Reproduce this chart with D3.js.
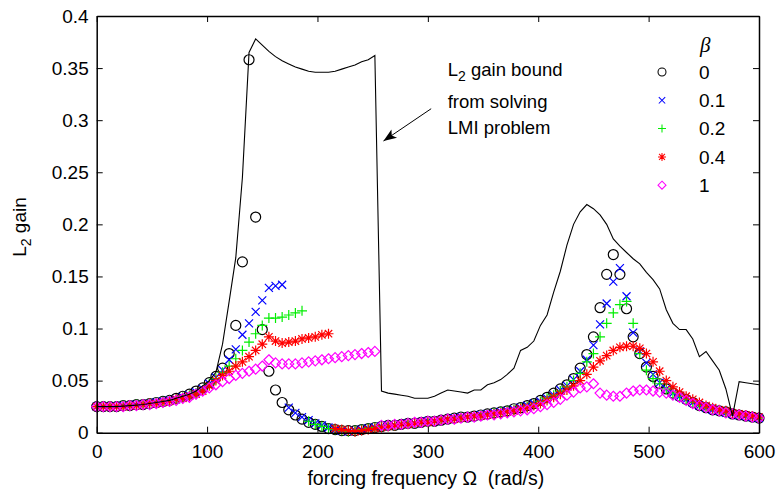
<!DOCTYPE html>
<html>
<head>
<meta charset="utf-8">
<script src="https://cdn.jsdelivr.net/npm/d3@7/dist/d3.min.js"></script>
<style>
  body { margin: 0; background: #fff; }
</style>
</head>
<body>
<div id="chart"></div>
<script>
let font = "'Liberation Sans', Arial, sans-serif"

// forcing frequency grid (rad/s)
let omega = [0,6,12,18,24,30,36,42,48,54,60,66,72,78,84,90,96,102,108,114,120,126,132,138,144,150,156,162,168,174,180,186,192,198,204,210,216,222,228,234,240,246,252,258,264,270,276,282,288,294,300,306,312,318,324,330,336,342,348,354,360,366,372,378,384,390,396,402,408,414,420,426,432,438,444,450,456,462,468,474,480,486,492,498,504,510,516,522,528,534,540,546,552,558,564,570,576,582,588,594,600]

// L2 gain bound from LMI
let bound = [0.025,0.025,0.025,0.025,0.0255,0.026,0.0265,0.027,0.028,0.029,0.030,0.031,0.033,0.035,0.037,0.040,0.045,
  0.050,0.058,0.085,0.126,0.168,0.245,0.365,0.378,0.372,0.366,0.361,0.357,0.354,0.351,0.349,0.347,0.346,0.346,0.346,0.347,0.349,0.351,0.353,0.356,0.358,0.362,
  0.040,0.038,0.037,0.036,0.035,0.033,0.033,0.033,0.035,0.038,0.041,0.040,0.039,0.038,0.041,0.041,0.046,0.048,0.051,0.056,0.062,0.079,0.082,0.088,0.103,0.113,0.135,0.155,0.180,
  0.200,0.212,0.219,0.215,0.209,0.200,0.186,0.179,0.173,0.167,0.162,0.154,0.147,0.138,0.118,0.105,0.099,0.099,0.090,0.073,0.078,0.069,0.060,0.042,0.016,0.049,0.048,0.047,0.046]

// simulated gain for each beta
let beta0 = [0.025,0.025,0.025,0.025,0.026,0.026,0.027,0.027,0.028,0.029,0.030,0.031,0.033,0.035,0.037,0.040,0.043,
  0.048,0.054,0.062,0.076,0.103,0.164,0.358,0.207,0.099,0.059,0.041,0.029,
  0.022,0.017,0.013,0.010,0.008,0.006,0.004,0.003,0.002,0.002,0.002,0.003,0.004,0.005,
  0.006,0.007,0.007,0.008,0.009,0.009,0.010,0.011,0.011,0.012,0.013,0.014,0.015,0.015,0.016,0.017,0.018,0.019,0.020,0.021,0.023,0.024,0.026,0.028,0.031,0.034,0.038,0.042,0.046,
  0.052,0.062,0.075,0.092,0.120,0.152,0.171,0.152,0.119,0.092,0.076,0.063,0.054,0.047,0.042,0.038,0.035,0.032,0.029,0.026,0.024,0.022,0.021,0.020,0.018,0.017,0.016,0.015,0.014]

let beta01 = [0.025,0.025,0.025,0.025,0.026,0.026,0.027,0.027,0.028,0.029,0.030,0.031,0.032,0.034,0.036,0.039,0.042,
  0.047,0.053,0.060,0.070,0.080,0.094,0.105,0.116,0.127,0.139,0.141,0.142,
  0.024,0.019,0.015,0.012,0.009,0.007,0.005,0.003,0.002,0.001,0.002,0.003,0.004,0.005,
  0.006,0.007,0.007,0.008,0.009,0.009,0.010,0.011,0.011,0.012,0.013,0.014,0.015,0.015,0.016,0.017,0.018,0.019,0.020,0.021,0.022,0.024,0.026,0.028,0.030,0.033,0.036,0.041,0.045,
  0.051,0.059,0.070,0.084,0.104,0.124,0.145,0.158,0.131,0.096,0.078,0.067,0.056,0.048,0.042,0.038,0.035,0.032,0.029,0.026,0.024,0.022,0.021,0.019,0.018,0.017,0.016,0.015,0.014]

let beta02 = [0.025,0.025,0.025,0.025,0.026,0.026,0.027,0.027,0.028,0.029,0.030,0.031,0.032,0.034,0.036,0.038,0.041,
  0.047,0.052,0.058,0.064,0.071,0.079,0.087,0.095,0.103,0.110,0.110,0.111,0.113,0.115,0.117,
  0.011,0.008,0.006,0.004,0.003,0.002,0.001,0.002,0.003,0.004,0.005,
  0.006,0.007,0.007,0.008,0.009,0.009,0.010,0.011,0.011,0.012,0.013,0.014,0.015,0.015,0.016,0.017,0.018,0.019,0.020,0.021,0.022,0.024,0.025,0.027,0.030,0.033,0.036,0.040,0.044,
  0.050,0.057,0.068,0.076,0.092,0.105,0.115,0.123,0.126,0.105,0.076,0.060,0.052,0.047,0.042,0.038,0.035,0.032,0.029,0.026,0.024,0.022,0.021,0.019,0.018,0.017,0.016,0.015,0.014]

let beta04 = [0.025,0.025,0.025,0.025,0.025,0.026,0.026,0.027,0.028,0.028,0.029,0.030,0.032,0.033,0.035,0.037,0.040,
  0.045,0.050,0.055,0.059,0.064,0.068,0.073,0.079,0.085,0.092,0.088,0.086,0.087,0.088,0.090,0.091,0.092,0.094,0.095,
  0.004,0.003,0.002,0.001,0.002,0.003,0.004,
  0.005,0.006,0.007,0.008,0.008,0.009,0.010,0.010,0.011,0.012,0.013,0.013,0.014,0.015,0.016,0.016,0.017,0.018,0.019,0.020,0.021,0.023,0.024,0.026,0.028,0.031,0.034,0.037,0.041,
  0.045,0.050,0.056,0.063,0.069,0.074,0.079,0.082,0.083,0.083,0.081,0.076,0.068,0.059,0.050,0.044,0.039,0.035,0.032,0.029,0.026,0.024,0.022,0.021,0.019,0.018,0.017,0.016,0.015]

let beta1 = [0.025,0.025,0.025,0.025,0.025,0.026,0.026,0.027,0.027,0.028,0.029,0.030,0.031,0.033,0.034,0.037,0.040,
  0.043,0.046,0.049,0.052,0.055,0.057,0.059,0.061,0.064,0.070,0.067,0.066,0.066,0.066,0.067,0.068,0.069,0.070,0.071,0.072,0.073,0.074,0.075,0.076,0.077,0.078,
  0.007,0.007,0.008,0.008,0.009,0.010,0.010,0.011,0.011,0.012,0.013,0.013,0.014,0.015,0.015,0.016,0.017,0.017,0.018,0.019,0.020,0.021,0.022,0.023,0.025,0.027,0.029,0.032,0.036,
  0.039,0.043,0.044,0.047,0.038,0.036,0.035,0.035,0.038,0.040,0.041,0.041,0.040,0.039,0.038,0.036,0.034,0.031,0.028,0.026,0.024,0.022,0.021,0.019,0.018,0.017,0.016,0.015,0.014]

let betaNamen = ["0", "0.1", "0.2", "0.4", "1"]
let markerArten = ["o", "x", "+", "*", "d"]
let farben = ["#000000", "#0000ff", "#00ee00", "#ff0000", "#ff00ff"]

let xTicks = [0, 100, 200, 300, 400, 500, 600]
let yTicks = [0, 0.05, 0.1, 0.15, 0.2, 0.25, 0.3, 0.35, 0.4]

function markerPfad(art) {
    if (art == "x") return "M-4,-4L4,4M-4,4L4,-4";
    if (art == "+") return "M-5,0H5M0,-5V5";
    if (art == "*") return "M-5,0H5M0,-5V5M-3.7,-3.7L3.7,3.7M-3.7,3.7L3.7,-3.7";
    if (art == "d") return "M0,-5L5,0L0,5L-5,0Z";
    return "M5,0A5,5 0 1,1 -5,0A5,5 0 1,1 5,0Z";
}

function zeichne() {
    let width = 777, height = 492;
    let x = d3.scaleLinear().domain([0, 600]).range([96.7, 759]);
    let y = d3.scaleLinear().domain([0, 0.4]).range([432.7, 16]);

    let svg = d3.select("#chart").append("svg")
        .attr("width", width)
        .attr("height", height)
        .style("font-family", font);

    svg.append("rect").attr("width", width).attr("height", height).attr("fill", "#fff");

    let reihen = [beta0, beta01, beta02, beta04, beta1];

    // scatter der Simulationen
    reihen.forEach(function (reihe, k) {
        svg.append("g").selectAll("path")
            .data(reihe)
            .enter().append("path")
            .attr("transform", function (d, i) { return "translate(" + x(omega[i]) + "," + y(d) + ")"; })
            .attr("d", markerPfad(markerArten[k]))
            .attr("fill", "none")
            .attr("stroke", farben[k])
            .attr("stroke-width", 1.2);
    });

    // Schranke aus LMI
    let linie = d3.line()
        .x(function (d, i) { return x(omega[i]); })
        .y(function (d) { return y(d); });
    svg.append("path")
        .datum(bound)
        .attr("d", linie)
        .attr("fill", "none")
        .attr("stroke", "#000")
        .attr("stroke-width", 1.1);

    // Achsen (Ticks nach innen)
    let yFormat = function (d) { return d == 0 ? "0" : String(+d.toFixed(2)); };
    let unten = svg.append("g").attr("transform", "translate(0," + y(0) + ")")
        .call(d3.axisBottom(x).tickValues(xTicks).tickSize(-6).tickSizeOuter(0).tickPadding(8));
    let links = svg.append("g").attr("transform", "translate(" + x(0) + ",0)")
        .call(d3.axisLeft(y).tickValues(yTicks).tickFormat(yFormat).tickSize(-6).tickSizeOuter(0).tickPadding(8));
    svg.append("g").attr("transform", "translate(0," + y(0.4) + ")")
        .call(d3.axisTop(x).tickValues(xTicks).tickFormat("").tickSize(-6).tickSizeOuter(0));
    svg.append("g").attr("transform", "translate(" + x(600) + ",0)")
        .call(d3.axisRight(y).tickValues(yTicks).tickFormat("").tickSize(-6).tickSizeOuter(0));

    svg.selectAll(".domain").attr("stroke", "#000").attr("stroke-width", 1.5);
    svg.selectAll(".tick line").attr("stroke", "#000").attr("stroke-width", 1);
    svg.selectAll(".tick text").attr("font-family", font).attr("font-size", "19px").attr("fill", "#000");
    unten.selectAll(".tick text").attr("dy", "0.9em");

    // Achsentitel
    svg.append("text")
        .attr("x", (x(0) + x(600)) / 2 - 2)
        .attr("y", 485)
        .attr("text-anchor", "middle")
        .attr("font-size", "19.5px")
        .attr("xml:space", "preserve")
        .text("forcing frequency \u03A9  (rad/s)");

    let yTitel = svg.append("text")
        .attr("transform", "translate(26,227) rotate(-90)")
        .attr("text-anchor", "middle")
        .attr("font-size", "19px");
    yTitel.append("tspan").text("L");
    yTitel.append("tspan").attr("font-size", "14px").attr("dy", 5).text("2");
    yTitel.append("tspan").attr("dy", -5).text(" gain");

    // Annotation mit Pfeil
    let anno = svg.append("g").attr("font-size", "18.5px");
    let t1 = anno.append("text").attr("x", x(318)).attr("y", y(0.342));
    t1.append("tspan").text("L");
    t1.append("tspan").attr("font-size", "14px").attr("dy", 5).text("2");
    t1.append("tspan").attr("dy", -5).text(" gain bound");
    anno.append("text").attr("x", x(318)).attr("y", y(0.312)).text("from solving");
    anno.append("text").attr("x", x(318)).attr("y", y(0.287)).text("LMI problem");

    let spitze = [x(259.8), y(0.28)], ende = [x(303), y(0.311)];
    anno.append("line")
        .attr("x1", ende[0]).attr("y1", ende[1])
        .attr("x2", spitze[0]).attr("y2", spitze[1])
        .attr("stroke", "#000").attr("stroke-width", 1);
    let winkel = Math.atan2(ende[1] - spitze[1], ende[0] - spitze[0]) * 180 / Math.PI;
    anno.append("path")
        .attr("d", "M0,0L13,-5L10,0L13,5Z")
        .attr("transform", "translate(" + spitze[0] + "," + spitze[1] + ") rotate(" + winkel + ")")
        .attr("fill", "#000");

    // Legende
    let leg = svg.append("g");
    leg.append("text")
        .attr("x", 700).attr("y", 52)
        .attr("font-family", "'Liberation Serif', serif")
        .attr("font-style", "italic")
        .attr("font-size", "21px")
        .text("\u03B2");
    betaNamen.forEach(function (name, k) {
        let yy = 72 + k * 28.3;
        leg.append("path")
            .attr("transform", "translate(662," + yy + ") scale(0.8)")
            .attr("d", markerPfad(markerArten[k]))
            .attr("fill", "none")
            .attr("stroke", farben[k])
            .attr("stroke-width", 1.3);
        leg.append("text")
            .attr("x", 699).attr("y", yy)
            .attr("dy", "0.35em")
            .attr("font-size", "19px")
            .text(name);
    });
}

zeichne();
</script>
</body>
</html>
